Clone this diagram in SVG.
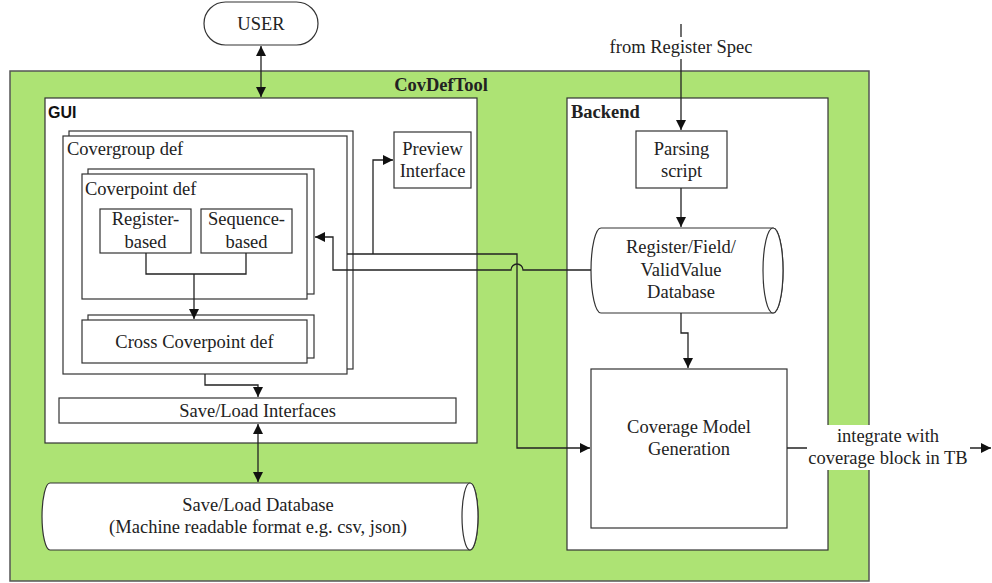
<svg xmlns="http://www.w3.org/2000/svg" width="992" height="583" viewBox="0 0 992 583">
<style>
.box{fill:#fff;stroke:#333;stroke-width:1.2}
.frame{fill:#ade374;stroke:#555;stroke-width:1.5}
.t{font-family:"Liberation Serif","Times New Roman",serif;font-size:18.5px;fill:#222}
.c{text-anchor:middle}
.b{font-weight:bold}
.sans{font-family:"Liberation Sans",Arial,sans-serif;font-size:16px;font-weight:bold;fill:#111}
.ln{fill:none;stroke:#222;stroke-width:1.3}
</style>
<defs>
<marker id="ah" viewBox="0 0 10 10" refX="10" refY="5" markerWidth="10" markerHeight="10" markerUnits="userSpaceOnUse" orient="auto-start-reverse">
<path d="M0,0 L10,5 L0,10 Z" fill="#111"/>
</marker>
</defs>

<g id="covdeftool">
<rect class="frame" x="10" y="71" width="859" height="510"/>
<text class="t b" x="488" y="91" text-anchor="end">CovDefTool</text>
</g>

<g id="user">
<rect class="box" x="204" y="2" width="114" height="43" rx="21.5"/>
<text class="t c" x="261" y="30">USER</text>
</g>

<g id="gui">
<rect class="box" x="45" y="98" width="432" height="345"/>
<text class="sans" x="48" y="118">GUI</text>
</g>

<g id="covergroup">
<rect class="box" x="69" y="131" width="284" height="238"/>
<rect class="box" x="63" y="136" width="284" height="238"/>
<text class="t" x="67" y="155">Covergroup def</text>
</g>

<g id="coverpoint">
<rect class="box" x="88" y="169" width="226" height="125"/>
<rect class="box" x="82" y="174" width="225" height="125"/>
<text class="t" x="85" y="195">Coverpoint def</text>
</g>

<g id="register-based">
<rect class="box" x="100" y="209" width="91" height="44"/>
<text class="t c" x="145.5" y="225">Register-</text>
<text class="t c" x="145.5" y="248">based</text>
</g>

<g id="sequence-based">
<rect class="box" x="201" y="209" width="91" height="44"/>
<text class="t c" x="246.5" y="225">Sequence-</text>
<text class="t c" x="246.5" y="248">based</text>
</g>

<g id="cross">
<rect class="box" x="88" y="315" width="226" height="43"/>
<rect class="box" x="82" y="320" width="225" height="43"/>
<text class="t c" x="194.5" y="348">Cross Coverpoint def</text>
</g>

<g id="preview">
<rect class="box" x="394" y="132" width="77" height="56"/>
<text class="t c" x="432.5" y="155">Preview</text>
<text class="t c" x="432.5" y="177">Interface</text>
</g>

<g id="saveload-if">
<rect class="box" x="59" y="398" width="397" height="25"/>
<text class="t c" x="257.5" y="417">Save/Load Interfaces</text>
</g>

<g id="saveload-db">
<path class="box" d="M50,483 H470 A8,33.5 0 0 1 470,550 H50 A8,33.5 0 0 1 50,483 Z"/>
<ellipse class="box" cx="470" cy="516.5" rx="8" ry="33.5"/>
<text class="t c" x="258" y="511">Save/Load Database</text>
<text class="t c" x="258" y="533">(Machine readable format e.g. csv, json)</text>
</g>

<g id="backend">
<rect class="box" x="567" y="98" width="261" height="452"/>
<text class="t b" x="571" y="118">Backend</text>
</g>

<g id="parsing">
<rect class="box" x="636" y="131" width="91" height="57"/>
<text class="t c" x="681.5" y="155">Parsing</text>
<text class="t c" x="681.5" y="177">script</text>
</g>

<g id="regdb">
<path class="box" d="M601,228 H773 A10,42.5 0 0 1 773,313 H601 A10,42.5 0 0 1 601,228 Z"/>
<ellipse class="box" cx="773" cy="270.5" rx="10" ry="42.5"/>
<text class="t c" x="681" y="253">Register/Field/</text>
<text class="t c" x="681" y="276">ValidValue</text>
<text class="t c" x="681" y="298">Database</text>
</g>

<g id="covmodel">
<rect class="box" x="591" y="369" width="196" height="159"/>
<text class="t c" x="689" y="433">Coverage Model</text>
<text class="t c" x="689" y="455">Generation</text>
</g>

<g id="connectors">
<path class="ln" d="M261,46 V97" marker-start="url(#ah)" marker-end="url(#ah)"/>
<path class="ln" d="M146,253 V274 H246 V253"/>
<path class="ln" d="M194,274 V319" marker-end="url(#ah)"/>
<path class="ln" d="M205,374 V385 H258 V397" marker-end="url(#ah)"/>
<path class="ln" d="M258,424 V482" marker-start="url(#ah)" marker-end="url(#ah)"/>
<path class="ln" d="M347,254 H517 V448 H590" marker-end="url(#ah)"/>
<path class="ln" d="M373,254 V160 H393" marker-end="url(#ah)"/>
<path class="ln" d="M591,270 H523 A6,6 0 0 0 511,270 H333 V237 H315" marker-end="url(#ah)"/>
<path class="ln" d="M681,24 V130" marker-end="url(#ah)"/>
<path class="ln" d="M681,188 V227" marker-end="url(#ah)"/>
<path class="ln" d="M681,313 V333 H688 V368" marker-end="url(#ah)"/>
<path class="ln" d="M787,448 H991" marker-end="url(#ah)"/>
<rect x="607" y="37" width="148" height="22" fill="#fff"/>
<text class="t c" x="681" y="53">from Register Spec</text>
<rect x="807" y="425" width="163" height="45" fill="#fff"/>
<text class="t c" x="888" y="442">integrate with</text>
<text class="t c" x="888" y="464">coverage block in TB</text>
</g>
</svg>
